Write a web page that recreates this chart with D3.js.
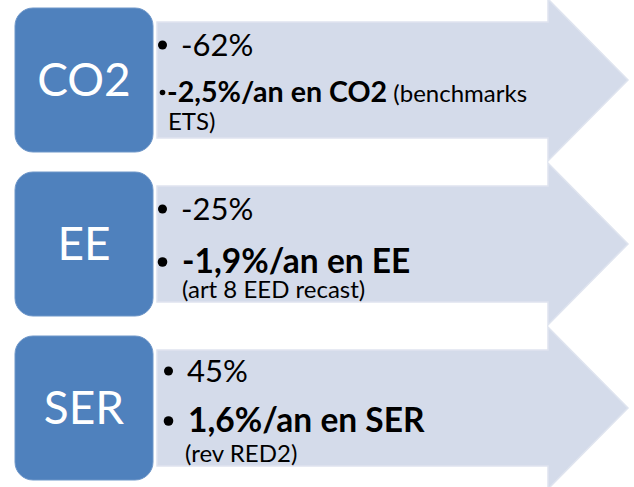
<!DOCTYPE html>
<html>
<head>
<meta charset="utf-8">
<script src="https://cdn.jsdelivr.net/npm/d3@7"></script>
<style>
  html, body { margin: 0; padding: 0; background: #fff; }
  svg { display: block; }
  text { font-family: Lato, "Open Sans", sans-serif; }
</style>
</head>
<body>
<div id="chart"></div>
<script>
'use strict';

// Chart data
var categories = ['CO2', 'EE', 'SER'];
var targets = ['-62%', '-25%', '45%'];
var annualRates = ['-2,5%/an en CO2', '-1,9%/an en EE', '1,6%/an en SER'];
var notes = [['(benchmarks', 'ETS)'], ['(art 8 EED recast)'], ['(rev RED2)']];

var width = 634, height = 487;

var svg = d3.select('#chart').append('svg')
  .attr('width', width)
  .attr('height', height);

var y = d3.scaleBand().domain(categories).range([-2, 490]);
var x = d3.scaleLinear().domain([0, 1]).range([157, 628]);

var boxLeft = 15, boxRight = 153, boxHalf = 72;
var bodyHalf = 58, headHalf = 81, headBase = 548;

var rows = svg.selectAll('g.row')
  .data(categories)
  .enter().append('g')
  .attr('class', 'row')
  .attr('transform', function(d) { return 'translate(0,' + (y(d) + y.bandwidth() / 2) + ')'; });

// Arrow behind
rows.append('path')
  .attr('d', function() {
    var p = d3.path();
    p.moveTo(x(0), -bodyHalf);
    p.lineTo(headBase, -bodyHalf);
    p.lineTo(headBase, -headHalf);
    p.lineTo(x(1), 0);
    p.lineTo(headBase, headHalf);
    p.lineTo(headBase, bodyHalf);
    p.lineTo(x(0), bodyHalf);
    p.closePath();
    return p.toString();
  })
  .attr('fill', '#d4dbea')
  .attr('stroke', '#dfe4ef')
  .attr('stroke-width', 1.5);

// Blue label box
rows.append('rect')
  .attr('x', boxLeft)
  .attr('y', -boxHalf)
  .attr('width', boxRight - boxLeft)
  .attr('height', boxHalf * 2)
  .attr('rx', 18)
  .attr('fill', '#4f81bd')
  .attr('stroke', '#6f97c9')
  .attr('stroke-width', 1);

rows.append('text')
  .attr('x', (boxLeft + boxRight) / 2)
  .attr('y', 16)
  .attr('text-anchor', 'middle')
  .style('font-size', '46px')
  .style('fill', '#fff')
  .text(function(d) { return d; });

rows.each(function(d, i) {
  var g = d3.select(this);
  var inline = notes[i].length > 1;
  var last = i === categories.length - 1;
  var shift = last ? 6 : 0;   // last row sits a bit further right
  var top = last ? -26 : -24;
  var base = inline ? 22 : (last ? 24 : 29);

  // First bullet: target
  g.append('circle')
    .attr('cx', 162.5 + shift)
    .attr('cy', top - 11)
    .attr('r', 4.5)
    .attr('fill', '#000');

  g.append('text')
    .attr('x', 181 + shift)
    .attr('y', top)
    .style('font-size', '31px')
    .style('fill', '#000')
    .text(targets[i]);

  // Second bullet: yearly rate, first row carries its note inline
  g.append('circle')
    .attr('cx', 162.5 + shift)
    .attr('cy', base - (inline ? 9.5 : 11))
    .attr('r', inline ? 2.8 : 4.8)
    .attr('fill', '#000');

  var line = g.append('text')
    .attr('x', inline ? 167 : 182 + shift)
    .attr('y', base)
    .style('fill', '#000');
  line.append('tspan')
    .style('font-weight', 'bold')
    .style('font-size', inline ? '28.6px' : '33.5px')
    .text(annualRates[i]);

  var rest = inline ? notes[i].slice(1) : notes[i];
  if (inline) {
    line.append('tspan')
      .style('font-size', '24px')
      .text(' ' + notes[i][0]);
  }
  rest.forEach(function(t, k) {
    g.append('text')
      .attr('x', inline ? 168 : 182 + shift / 2)
      .attr('y', (inline ? base + 28 : 54) + k * 26)
      .style('font-size', '24px')
      .style('fill', '#000')
      .text(t);
  });
});
</script>
</body>
</html>
